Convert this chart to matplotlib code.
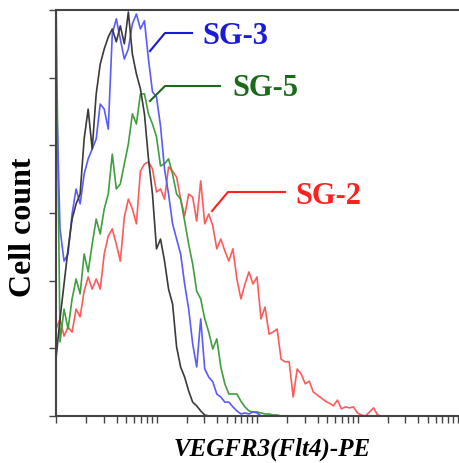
import numpy as np
import matplotlib
matplotlib.use("Agg")
import matplotlib.pyplot as plt
from matplotlib.ticker import LogLocator, NullFormatter, MultipleLocator

# log-spaced channels, 0.04 decade apart (1 .. ~4000)
channels = np.logspace(0, 3.6, 91)

black = [16.9, 28.7, 39.0, 49.4, 58.2, 62.7, 65.6, 81.9, 90.7, 78.9,
         95.2, 104.0, 108.5, 112.0, 114.4, 110.6, 115.3, 110.0, 119.4, 107.0,
         101.1, 96.7, 89.3, 76.0, 65.6, 49.4, 52.3, 45.8, 37.5, 33.1,
         20.4, 14.5, 11.5, 7.4, 4.1, 3.0, 1.5, 0.3, 0, 0,
         0, 0, 0, 0, 0, 0, 0, 0, 0, 0,
         0, 0, 0, 0, 0, 0, 0, 0, 0, 0,
         0, 0, 0, 0, 0, 0, 0, 0, 0, 0,
         0, 0, 0, 0, 0, 0, 0, 0, 0, 0,
         0, 0, 0, 0, 0, 0, 0, 0, 0, 0, 0]

sg3 = [101.1, 55.3, 45.8, 47.9, 59.7, 67.1, 62.7, 71.5, 76.0, 78.9,
       81.9, 92.2, 90.7, 84.8, 112.9, 117.4, 111.4, 105.5, 108.5, 115.9,
       118.8, 114.4, 116.8, 105.5, 95.8, 94.3, 85.7, 73.0, 65.6, 56.8,
       52.3, 47.9, 39.0, 31.6, 21.3, 14.5, 28.7, 13.9, 11.5, 10.1,
       6.5, 5.6, 4.1, 4.1, 2.7, 1.5, 0.6, 0.9, 0.6, 1.2,
       0.9, 0, 0, 0, 0, 0, 0, 0, 0, 0,
       0, 0, 0, 0, 0, 0, 0, 0, 0, 0,
       0, 0, 0, 0, 0, 0, 0, 0, 0, 0,
       0, 0, 0, 0, 0, 0, 0, 0, 0, 0, 0]

sg5 = [125.0, 21.9, 31.6, 25.7, 34.6, 40.5, 36.1, 47.9, 42.6, 50.8,
       58.2, 53.8, 61.2, 65.6, 77.4, 67.1, 68.6, 74.5, 80.4, 89.3,
       86.3, 95.2, 95.2, 89.3, 86.3, 82.5, 73.9, 74.5, 76.0, 71.5,
       65.6, 64.1, 57.6, 50.8, 44.9, 36.9, 34.6, 28.7, 24.8, 19.8,
       22.8, 14.5, 9.5, 6.5, 6.5, 6.5, 4.4, 2.7, 1.5, 1.2,
       1.2, 0.9, 0.6, 0.6, 0.3, 0.3, 0, 0, 0, 0,
       0, 0, 0, 0, 0, 0, 0, 0, 0, 0,
       0, 0, 0, 0, 0, 0, 0, 0, 0, 0,
       0, 0, 0, 0, 0, 0, 0, 0, 0, 0, 0]

sg2 = [25.7, 28.7, 23.6, 26.3, 24.8, 31.6, 29.3, 36.9, 41.1, 37.5,
       40.5, 37.5, 47.9, 53.2, 55.3, 50.8, 45.8, 58.8, 64.1, 61.2,
       56.8, 72.4, 74.5, 75.1, 73.0, 66.2, 67.1, 64.1, 73.6, 72.4,
       70.6, 64.1, 59.1, 65.6, 64.7, 57.6, 69.5, 56.8, 59.7, 56.2,
       49.4, 52.3, 48.8, 45.8, 49.4, 40.5, 34.6, 39.0, 42.6, 39.0,
       41.1, 28.7, 32.2, 24.2, 24.8, 25.7, 16.8, 16.0, 16.0, 5.6,
       13.9, 12.4, 9.5, 10.3, 7.1, 6.2, 5.3, 4.4, 3.8, 3.0,
       4.7, 2.1, 2.7, 2.4, 2.7, 0.9, 0.3, 0, 1.2, 2.4,
       0.3, 0, 0, 0, 0, 0, 0, 0, 0, 0, 0]

fig = plt.figure(figsize=(4.59, 4.64), dpi=100)
ax = fig.add_axes([56/459, 47/464, 402/459, 406/464])

ax.plot(channels, sg2, color="#ff5a5a", lw=1.2)
ax.plot(channels, sg5, color="#3f9f3f", lw=1.2)
ax.plot(channels, sg3, color="#5a5aff", lw=1.2)
ax.plot(channels, black, color="#3a3a3a", lw=1.2)

ax.set_xscale("log")
ax.set_xlim(1, 1e4)
ax.set_ylim(0, 120)
ax.xaxis.set_major_locator(LogLocator(base=10))
ax.xaxis.set_minor_locator(LogLocator(base=10, subs=np.arange(2, 10)))
ax.xaxis.set_major_formatter(NullFormatter())
ax.xaxis.set_minor_formatter(NullFormatter())
ax.yaxis.set_major_locator(MultipleLocator(20))
ax.set_yticklabels([])
ax.tick_params(axis="both", which="both", direction="out", length=5,
               width=1, color="#444444")

for s in ["left", "bottom", "top"]:
    ax.spines[s].set_color("#444444")
    ax.spines[s].set_linewidth(1.5)
ax.spines["right"].set_visible(False)


def px(x, y):
    return (x / 459, (464 - y) / 464)


serif = "Liberation Serif"
fig.text(*px(24, 227), "Cell count", fontsize=23, fontweight="bold",
         family=serif, rotation=90, ha="center", va="center")
fig.text(*px(272, 449), "VEGFR3(Flt4)-PE", fontsize=18, fontweight="bold",
         fontstyle="italic", family=serif, ha="center", va="center")

labels = [("SG-3", "#1a1ad8", (150, 52), (165, 34), (192, 34), (202, 36)),
          ("SG-5", "#1a6a1a", (150, 102), (165, 87), (220, 87), (232, 88)),
          ("SG-2", "#ff2020", (212, 212), (228, 193), (285, 193), (295, 196))]

for name, col, p1, p2, p3, pt in labels:
    pts = np.array([px(*p1), px(*p2), px(*p3)])
    fig.add_artist(plt.Line2D(pts[:, 0], pts[:, 1], color=col, lw=1.5))
    fig.text(*px(*pt), name, color=col, fontsize=22, fontweight="bold",
             family=serif, va="center", ha="left")

fig.savefig("out.png", dpi=100)
